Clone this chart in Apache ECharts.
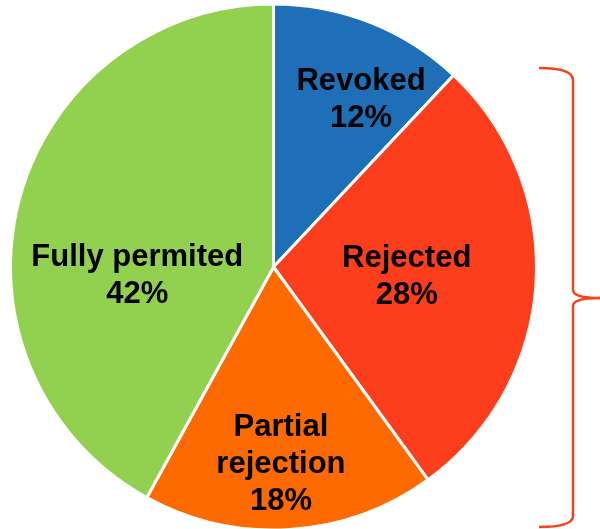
<!DOCTYPE html>
<html>
<head>
<meta charset="utf-8">
<script src="https://cdn.jsdelivr.net/npm/echarts@6/dist/echarts.min.js"></script>
<style>html,body{margin:0;padding:0;background:#fff}#c{width:600px;height:529px}</style>
</head>
<body>
<div id="c"></div>
<script>
var categories = ['Revoked', 'Rejected', 'Partial\nrejection', 'Fully permited'];
var values = [12, 28, 18, 42];
var colors = ['#1F6FB8', '#FC3E1C', '#FF6A00', '#92D050'];
var labelOffsets = [[38, -42], [-1, 2], [-1, 63], [-6, 42]];

var chart = echarts.init(document.getElementById('c'));
var data = categories.map(function (c, i) {
  return {
    name: c,
    value: values[i],
    itemStyle: { color: colors[i] },
    label: { offset: labelOffsets[i] }
  };
});
var braceStyle = { fill: 'none', stroke: '#F8421E', lineWidth: 2.5 };
function curve(x1, y1, cx, cy, x2, y2) {
  return { type: 'bezierCurve', shape: { x1: x1, y1: y1, cpx1: cx, cpy1: cy, x2: x2, y2: y2 }, style: braceStyle, silent: true };
}
function seg(x1, y1, x2, y2) {
  return { type: 'line', shape: { x1: x1, y1: y1, x2: x2, y2: y2 }, style: braceStyle, silent: true };
}
chart.setOption({
  animation: false,
  series: [{
    type: 'pie',
    center: [273.5, 267],
    radius: [0, 263],
    startAngle: 90,
    clockwise: true,
    data: data,
    itemStyle: { borderColor: '#fff', borderWidth: 3 },
    label: {
      show: true,
      position: 'inside',
      formatter: '{b}\n{c}%',
      color: '#000',
      fontFamily: 'Liberation Sans, Arial, sans-serif',
      fontWeight: 'bold',
      fontSize: 31,
      lineHeight: 37,
      align: 'center'
    },
    labelLine: { show: false },
    emphasis: { disabled: true }
  }],
  graphic: [
    curve(539, 68, 573, 68, 573, 80),
    seg(573, 80, 573, 290),
    curve(573, 290, 573, 298, 600, 298),
    curve(600, 298, 573, 298, 573, 306),
    seg(573, 306, 573, 516),
    curve(573, 516, 573, 527, 539, 527)
  ]
});
</script>
</body>
</html>
